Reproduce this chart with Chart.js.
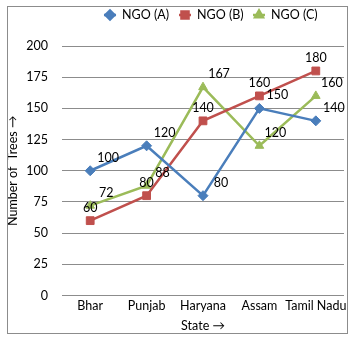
<!DOCTYPE html>
<html>
<head>
<meta charset="utf-8">
<script src="https://cdn.jsdelivr.net/npm/chart.js@4/dist/chart.umd.min.js"></script>
<style>
  html, body { margin: 0; padding: 0; background: #fff; }
  #wrap { width: 356px; height: 341px; }
</style>
</head>
<body>
<div id="wrap"><canvas id="treeChart" width="356" height="341"></canvas></div>
<script>
const states = ["Bhar", "Punjab", "Haryana", "Assam", "Tamil Nadu"];
const ngoA = [100, 120, 80, 150, 140];
const ngoB = [60, 80, 140, 160, 180];
const ngoC = [72, 88, 167, 120, 160];
const yTicks = [0, 25, 50, 75, 100, 125, 150, 175, 200];

const FONT = "Lato, 'Open Sans', sans-serif";
const colA = "#4A7EBB";
const colB = "#C0504D";
const colC = "#9BBB59";

// value labels next to each point; offsets per series
const labelPlugin = {
  id: "pointLabels",
  afterDatasetsDraw(chart) {
    const ctx = chart.ctx;
    ctx.save();
    ctx.font = "12.5px " + FONT;
    ctx.fillStyle = "#000";
    ctx.textAlign = "center";
    ctx.textBaseline = "middle";
    chart.data.datasets.forEach((ds, i) => {
      const meta = chart.getDatasetMeta(i);
      meta.data.forEach((pt, j) => {
        ctx.fillText(String(ds.data[j]), pt.x + ds.labelDx, pt.y + ds.labelDy);
      });
    });
    ctx.restore();
  }
};

// legend row at the top plus the outer frame
const frameLegendPlugin = {
  id: "frameLegend",
  afterDraw(chart) {
    const ctx = chart.ctx;
    ctx.save();
    ctx.strokeStyle = "#8c8c8c";
    ctx.lineWidth = 1;
    ctx.strokeRect(7.5, 6.5, 340, 327);

    const y = 15;
    chart.data.datasets.forEach((ds, i) => {
      const mx = ds.legendX;
      ctx.strokeStyle = ds.borderColor;
      ctx.lineWidth = 2.5;
      ctx.beginPath();
      ctx.moveTo(mx - 6, y);
      ctx.lineTo(mx + 6, y);
      ctx.stroke();
      Chart.helpers.drawPoint(ctx, {
        pointStyle: ds.pointStyle,
        radius: ds.pointRadius - 0.5,
        borderWidth: 1
      }, mx, y);
      ctx.fillStyle = ds.borderColor;
      ctx.fill();
      ctx.fillStyle = "#000";
      ctx.font = "12.5px " + FONT;
      ctx.textAlign = "left";
      ctx.textBaseline = "middle";
      ctx.fillText(ds.label, mx + 12, y);
    });
    ctx.restore();
  }
};

function series(label, data, color, style, radius, dx, legendX) {
  return {
    label: label,
    data: data,
    borderColor: color,
    backgroundColor: color,
    borderWidth: 2.5,
    pointStyle: style,
    pointRadius: radius,
    pointHoverRadius: radius,
    pointBorderWidth: 1,
    tension: 0,
    labelDx: dx,
    labelDy: -13,
    legendX: legendX
  };
}

new Chart(document.getElementById("treeChart"), {
  type: "line",
  data: {
    labels: states,
    datasets: [
      series("NGO (A)", ngoA, colA, "rectRot", 5, 18, 110),
      series("NGO (B)", ngoB, colB, "rect", 5.5, 0, 185),
      series("NGO (C)", ngoC, colC, "triangle", 5, 16, 259)
    ]
  },
  options: {
    responsive: false,
    animation: false,
    layout: { padding: { top: 46, right: 12, left: 0, bottom: 0 } },
    plugins: {
      legend: { display: false },
      tooltip: { enabled: false }
    },
    scales: {
      x: {
        offset: true,
        grid: { display: false, drawTicks: false },
        border: { display: false },
        ticks: { color: "#000", font: { family: FONT, size: 12.5 }, padding: 3, maxRotation: 0, autoSkip: false },
        title: { display: true, text: "State \u2192", color: "#000", font: { family: FONT, size: 12.5 }, padding: { top: 0, bottom: 8 } },
        afterFit(scale) { scale.height = 45.5; }
      },
      y: {
        min: 0,
        max: 200,
        afterBuildTicks(scale) { scale.ticks = yTicks.map(v => ({ value: v })); },
        grid: { color: "#8c8c8c", lineWidth: 1, drawTicks: false },
        border: { display: false },
        ticks: { color: "#000", font: { family: FONT, size: 12.5 }, padding: 14 },
        title: { display: true, text: "Number of  Trees \u2192", color: "#000", font: { family: FONT, size: 12.5 }, padding: { top: 5.5, bottom: 0 } },
        afterFit(scale) { scale.width = 62; }
      }
    }
  },
  plugins: [labelPlugin, frameLegendPlugin]
});
</script>
</body>
</html>
